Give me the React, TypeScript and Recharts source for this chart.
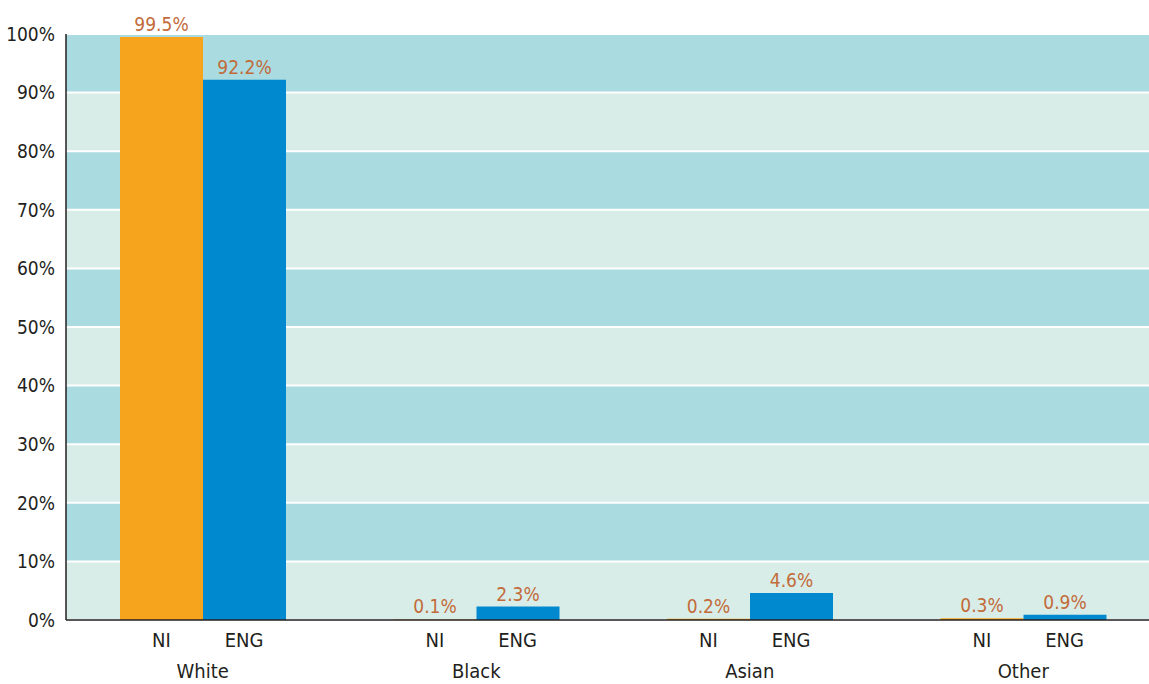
import { BarChart, Bar, XAxis, YAxis, CartesianGrid, LabelList } from 'recharts'

const categories = ['White', 'Black', 'Asian', 'Other']
const niValues = [99.5, 0.1, 0.2, 0.3]
const engValues = [92.2, 2.3, 4.6, 0.9]
const seriesLabels = ['NI', 'ENG']
const yTicks = [0, 10, 20, 30, 40, 50, 60, 70, 80, 90, 100]

const data = categories.map((name, i) => ({ name, ni: niValues[i], eng: engValues[i] }))

const FONT = '"DejaVu Sans Condensed", "Liberation Sans", sans-serif'
const BAR_GAP_SIDE = 54

function CategoryTick(props: any) {
  const { x, y, payload } = props
  const band = 1094 / categories.length
  const barW = (band - 2 * BAR_GAP_SIDE) / 2
  return (
    <g>
      {seriesLabels.map((s, i) => (
        <text
          key={s}
          x={x + (i === 0 ? -barW / 2 : barW / 2)}
          y={y + 27}
          textAnchor="middle"
          fontSize={20}
          fontFamily={FONT}
          fill="#231f20"
        >
          {s}
        </text>
      ))}
      <text x={x} y={y + 58} textAnchor="middle" fontSize={20} fontFamily={FONT} fill="#231f20">
        {payload.value}
      </text>
    </g>
  )
}

export default function App() {
  return (
    <div style={{ position: 'fixed', left: 0, top: 0, width: 1149, height: 684, overflow: 'hidden', background: '#fff' }}>
      <BarChart
        width={1160}
        height={684}
        data={data}
        margin={{ top: 34, right: 0, left: 0, bottom: 0 }}
        barCategoryGap={BAR_GAP_SIDE}
        barGap={0}
      >
        <CartesianGrid
          vertical={false}
          stroke="#ffffff"
          strokeWidth={2}
          horizontalFill={['#a9dbe1', '#d9ede8']}
          fillOpacity={1}
        />
        <XAxis
          dataKey="name"
          height={64}
          tickSize={0}
          tickMargin={0}
          tickLine={false}
          axisLine={{ stroke: '#231f20', strokeWidth: 1.5 }}
          tick={<CategoryTick />}
          interval={0}
        />
        <YAxis
          width={66}
          domain={[0, 100]}
          ticks={yTicks}
          tickFormatter={(v) => `${v}%`}
          tickSize={0}
          tickMargin={11}
          tickLine={false}
          axisLine={{ stroke: '#231f20', strokeWidth: 1.5 }}
          tick={{ fontSize: 19, fill: '#231f20', fontFamily: FONT }}
        />
        <Bar dataKey="ni" fill="#f6a41d" isAnimationActive={false}>
          <LabelList
            dataKey="ni"
            position="top"
            offset={6}
            formatter={(v: any) => `${v}%`}
            style={{ fontSize: 19, fill: '#c26b3a', fontFamily: FONT }}
          />
        </Bar>
        <Bar dataKey="eng" fill="#0189d0" isAnimationActive={false}>
          <LabelList
            dataKey="eng"
            position="top"
            offset={6}
            formatter={(v: any) => `${v}%`}
            style={{ fontSize: 19, fill: '#c26b3a', fontFamily: FONT }}
          />
        </Bar>
      </BarChart>
    </div>
  )
}
